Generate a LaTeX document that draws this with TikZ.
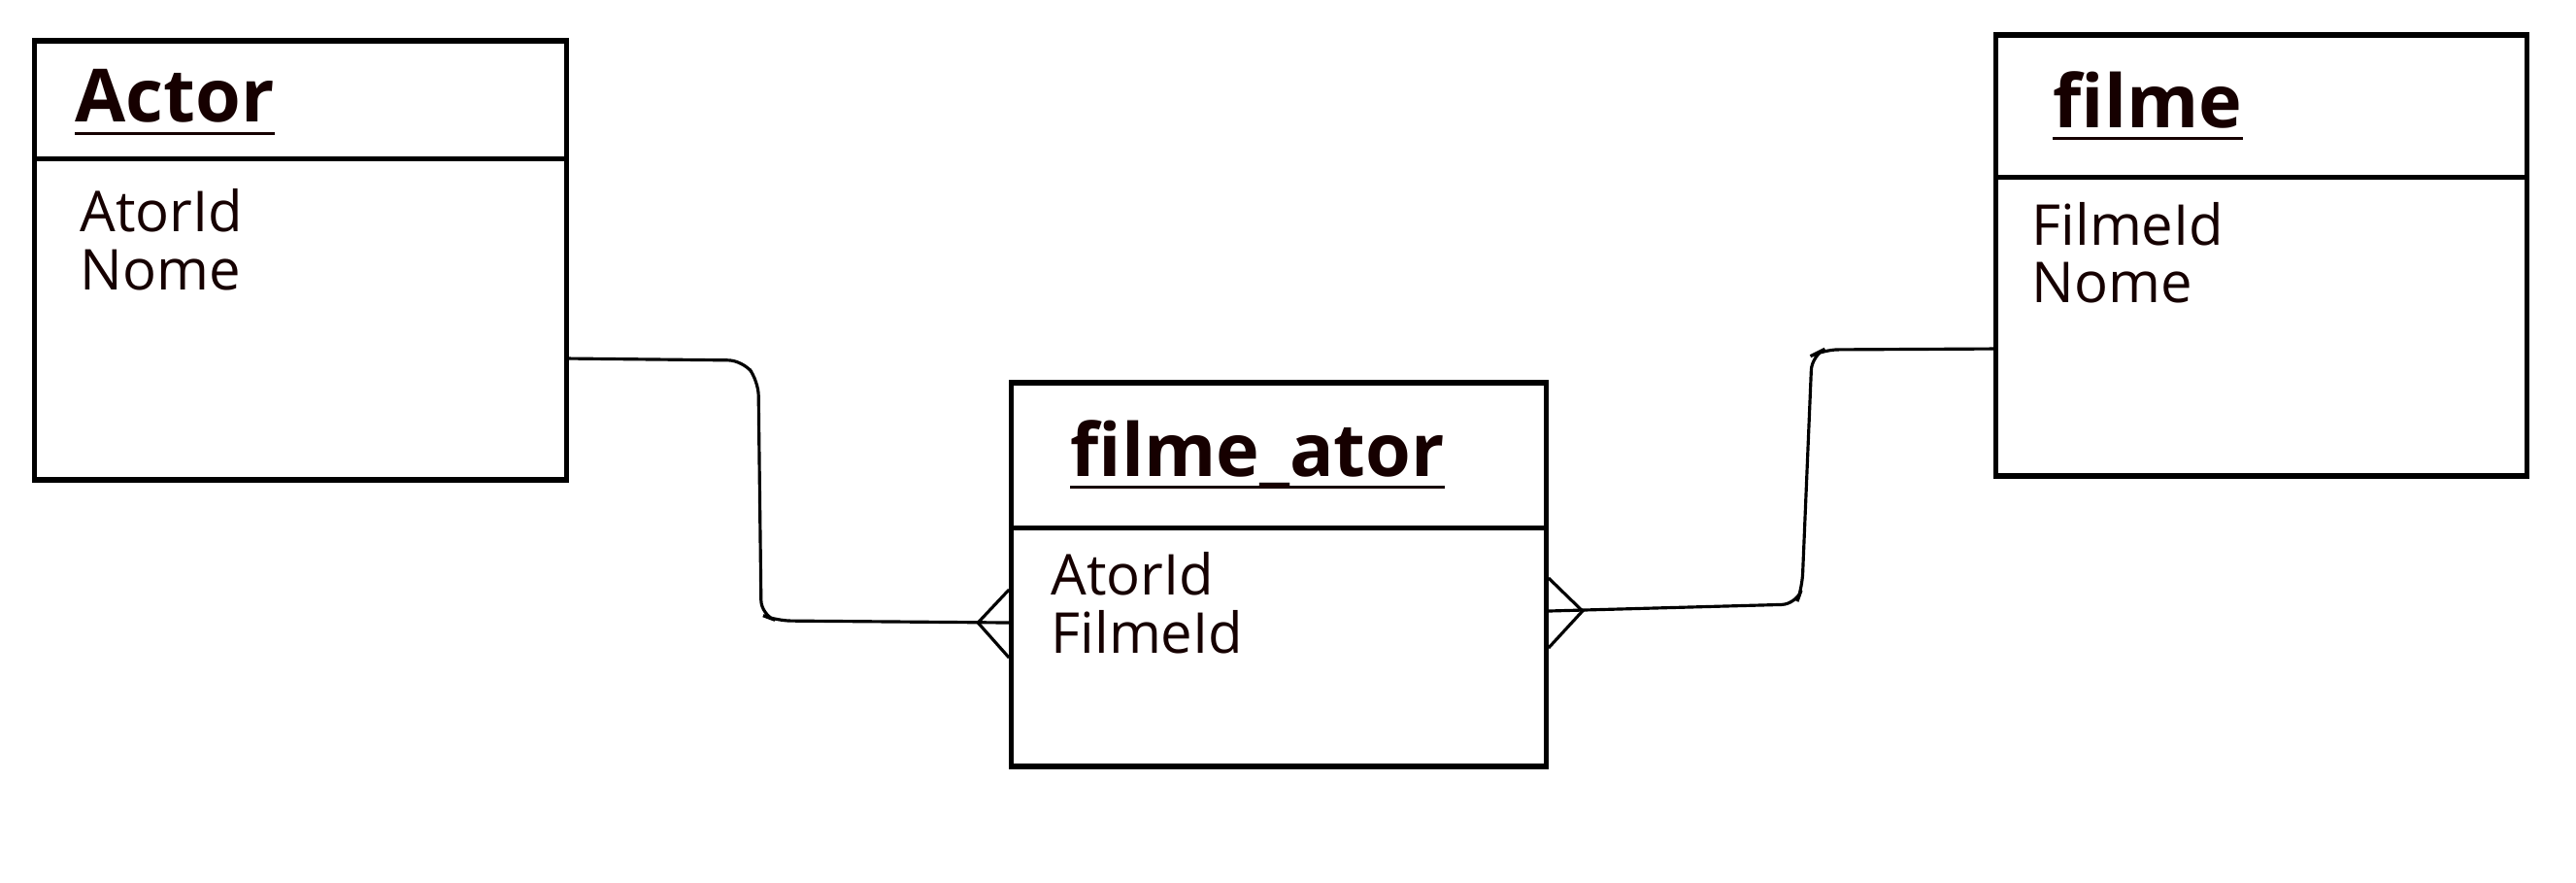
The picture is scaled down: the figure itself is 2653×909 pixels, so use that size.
\documentclass[tikz,border=0pt]{standalone}
\usepackage{fontspec}
\setmainfont{Open Sans}
\definecolor{ink}{RGB}{22,0,0}
\begin{document}
\begin{tikzpicture}[x=0.01cm,y=-0.01cm,
    entity/.style={draw,line width=1.5pt,inner sep=0pt},
    title/.style={anchor=base west,inner sep=0pt,text=ink,font=\fontsize{21.5}{26}\selectfont\bfseries},
    attr/.style={anchor=base west,inner sep=0pt,text=ink,font=\fontsize{16.5}{20}\selectfont},
    link/.style={line width=0.9pt,rounded corners=0.15cm},
    foot/.style={line width=0.9pt}]
    \useasboundingbox (0,0) rectangle (2653,909);
    \node[entity,minimum width=5.47cm,minimum height=4.52cm] (actor) at (309.5,268) {};
    \node[entity,minimum width=5.50cm,minimum height=3.95cm] (filmeator) at (1317,591.5) {};
    \node[entity,minimum width=5.46cm,minimum height=4.54cm] (filme) at (2329,263) {};
    \draw[line width=1.5pt] ([yshift=-1.24cm]actor.north west) -- ([yshift=-1.24cm]actor.north east);
    \draw[line width=1.5pt] ([yshift=-1.52cm]filmeator.north west) -- ([yshift=-1.52cm]filmeator.north east);
    \draw[line width=1.5pt] ([yshift=-1.49cm]filme.north west) -- ([yshift=-1.49cm]filme.north east);
    \node[title] (actortitle) at (77,126) {Actor};
    \node[title] (fatitle) at (1102,490) {filme\_ator};
    \node[title] (filmetitle) at (2114,131) {filme};
    \foreach \t in {actortitle,fatitle,filmetitle}
    \draw[line width=1.1pt,ink] ([yshift=-0.115cm]\t.base west) -- ([yshift=-0.115cm]\t.base east);
    \node[attr] (actorid) at (82,238) {AtorId};
    \node[attr] (actornome) at (82,298) {Nome};
    \node[attr] (faatorid) at (1082,612) {AtorId};
    \node[attr] (fafilmeid) at (1082,672) {FilmeId};
    \node[attr] (filmeid) at (2092,252) {FilmeId};
    \node[attr] (filmenome) at (2092,311) {Nome};
    \coordinate (actorlink) at ([yshift=-1.01cm]actor.east);
    \coordinate (faleft) at ([yshift=-0.495cm]filmeator.west);
    \coordinate (faright) at ([yshift=-0.375cm]filmeator.east);
    \coordinate (filmelink) at ([yshift=-0.96cm]filme.west);
    \draw[link] (actorlink) -- (765,371) -- (781,392) -- (784,633) -- (800,639) -- (faleft);
    \draw[link] (faright) -- (1850,622) -- (1856,605) -- (1866,366) -- (1878,360) -- (filmelink);
    \draw[foot] ([yshift=0.34cm]faleft) -- ([xshift=-0.32cm]faleft) -- ([yshift=-0.36cm]faleft);
    \draw[foot] ([yshift=0.34cm]faright) -- ([xshift=0.35cm]faright) -- ([yshift=-0.38cm]faright);
\end{tikzpicture}
\end{document}
